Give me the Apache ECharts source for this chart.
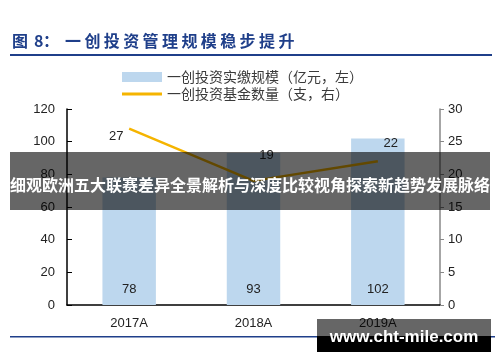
<!DOCTYPE html>
<html><head><meta charset="utf-8">
<script src="https://cdn.jsdelivr.net/npm/echarts@6/dist/echarts.min.js"></script>
<style>html,body{margin:0;padding:0;background:#fff}#c{width:500px;height:362px}</style>
</head><body><div id="c"></div>
<script>
const categories = ['2017A', '2018A', '2019A'];
const scaleValues = [78, 93, 102];
const fundCounts = [27, 19, 22];
const leftTicks = [0, 20, 40, 60, 80, 100, 120];
const rightTicks = [0, 5, 10, 15, 20, 25, 30];
const seriesNames = ['一创投资实缴规模（亿元，左）', '一创投资基金数量（支，右）'];
const titleText = '图 8：一创投资管理规模稳步提升';
const bannerText = '细观欧洲五大联赛差异全景解析与深度比较视角探索新趋势发展脉络';
const watermarkText = 'www.cht-mile.com';

const lineLabelOffsets = [[-13, 8], [13, -25], [13, -18]];
const numFont = 'Liberation Sans, Arial, sans-serif';
const cjkFont = 'Noto Sans CJK SC, sans-serif';

// title drawn character by character to reproduce its wide letter spacing
const titleChars = Array.from(titleText);
const titleX = titleChars.map((ch, i) => {
  if (i === 0) return 12;
  if (i === 1) return 28;
  if (i === 2) return 34;
  if (i === 3) return 43;
  return 65 + (i - 4) * 19.4;
});
const titleGraphics = titleChars.map((ch, i) => ({
  type: 'text', x: titleX[i], y: 41,
  style: {text: ch, font: 'bold 16px ' + cjkFont, fill: '#1f3f8a', verticalAlign: 'middle'}
}));

const chart = echarts.init(document.getElementById('c'), null, {renderer: 'canvas'});
chart.setOption({
  animation: false,
  grid: {left: 67, right: 60, top: 109, height: 196},
  legend: {
    orient: 'vertical', left: 117, top: 65, itemWidth: 40, itemHeight: 10, itemGap: 3,
    textStyle: {fontFamily: cjkFont, fontSize: 14, color: '#3a3a3a'},
    data: [
      {name: seriesNames[0], icon: 'rect'},
      {name: seriesNames[1], icon: 'path://M0,0 L40,0 L40,3 L0,3 Z', itemStyle: {color: '#f5b400'}}
    ]
  },
  xAxis: {
    type: 'category', data: categories,
    axisLine: {lineStyle: {color: '#000', width: 1.5}},
    axisTick: {inside: true, length: 4, lineStyle: {color: '#000'}},
    axisLabel: {fontFamily: numFont, fontSize: 13, color: '#222', margin: 12}
  },
  yAxis: [{
    type: 'value', min: 0, max: 120, interval: 20,
    axisLine: {show: true, lineStyle: {color: '#000', width: 1.5}},
    axisTick: {show: true, inside: true, length: 5, lineStyle: {color: '#000'}},
    splitLine: {show: false},
    axisLabel: {fontFamily: numFont, fontSize: 13, color: '#222', margin: 12,
      formatter: v => leftTicks.includes(v) ? String(v) : ''}
  }, {
    type: 'value', min: 0, max: 30, interval: 5,
    axisLine: {show: true, lineStyle: {color: '#888', width: 1.5}},
    axisTick: {show: true, inside: false, length: 4, lineStyle: {color: '#888'}},
    splitLine: {show: false},
    axisLabel: {fontFamily: numFont, fontSize: 13, color: '#222', margin: 8,
      formatter: v => rightTicks.includes(v) ? String(v) : ''}
  }],
  series: [{
    name: seriesNames[0], type: 'bar', data: scaleValues, barWidth: '43%',
    itemStyle: {color: '#bdd7ee'},
    label: {show: true, position: 'insideBottom', distance: 9,
      fontFamily: numFont, fontSize: 13, color: '#222'}
  }, {
    name: seriesNames[1], type: 'line', yAxisIndex: 1,
    symbol: 'circle', symbolSize: 0, showSymbol: true,
    lineStyle: {color: '#f5b400', width: 2.5},
    itemStyle: {color: '#f5b400'},
    data: fundCounts.map((v, i) => ({value: v, label: {offset: lineLabelOffsets[i]}})),
    label: {show: true, position: 'inside', fontFamily: numFont, fontSize: 13, color: '#222'}
  }],
  graphic: titleGraphics.concat([
    {type: 'rect', shape: {x: 10, y: 54, width: 482, height: 2}, style: {fill: '#1f3f8a'}},
    {type: 'rect', shape: {x: 10, y: 336, width: 485, height: 1.5}, style: {fill: '#1f3f8a'}},
    {type: 'rect', shape: {x: 10, y: 152, width: 480, height: 58}, style: {fill: 'rgba(0,0,0,0.6)'}, z: 100},
    {type: 'text', x: 250, y: 185, style: {text: bannerText, font: 'bold 16px ' + cjkFont, fill: '#fff', align: 'center', verticalAlign: 'middle'}, z: 101},
    {type: 'rect', shape: {x: 317, y: 319, width: 174, height: 17}, style: {fill: 'rgba(0,0,0,0.6)'}, z: 100},
    {type: 'rect', shape: {x: 317, y: 336, width: 174, height: 16}, style: {fill: '#000'}, z: 100},
    {type: 'text', x: 404, y: 337, style: {text: watermarkText, font: 'bold 17px ' + numFont, fill: '#fff', align: 'center', verticalAlign: 'middle'}, z: 101}
  ])
});
</script></body></html>
